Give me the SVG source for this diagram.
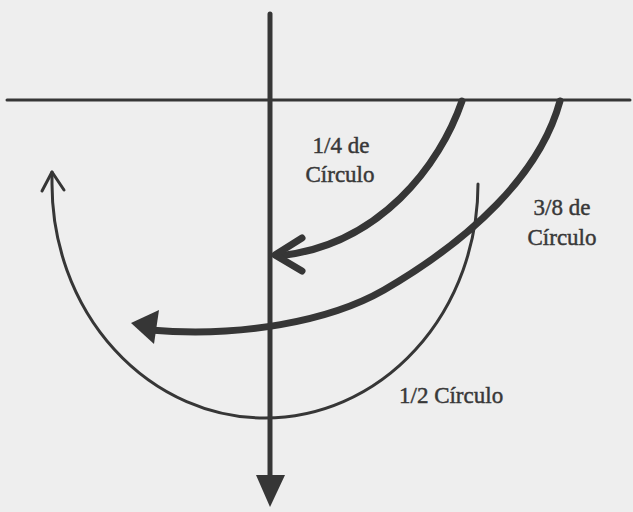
<svg xmlns="http://www.w3.org/2000/svg" width="633" height="512" viewBox="0 0 633 512">
<style>
.ink{fill:none;stroke:#363636;stroke-linecap:round;stroke-linejoin:round}
.thick{stroke-width:7}
.thin{stroke-width:3}
.head{fill:#363636;stroke:none}
.lbl{font-family:"Liberation Serif","Times New Roman",serif;font-size:23px;fill:#383838;stroke:#383838;stroke-width:0.45}
</style>
<rect x="0" y="0" width="633" height="512" fill="#eeeeee"/>
<g id="axes">
  <g id="axis-horizontal"><line class="ink" x1="7" y1="100" x2="630" y2="100" stroke-width="3" stroke-linecap="butt"/></g>
  <g id="axis-vertical">
    <line class="ink" x1="270" y1="14" x2="270" y2="480" stroke-width="5" stroke-linecap="butt"/>
    <polygon class="head" points="256,475 285,475 270,507"/>
  </g>
</g>
<g id="connectors">
  <g id="arc-quarter">
    <path class="ink thick" d="M462,101 C440,165 380,245 279,256"/>
    <polyline class="ink thick" points="302,238 275,255 302,271"/>
  </g>
  <g id="arc-three-eighths">
    <path class="ink thick" d="M560,101 C540,175 470,240 384,290 C330,321 240,338 150,330"/>
    <polygon class="head" points="131,323 159,310 154,344"/>
  </g>
  <g id="arc-half">
    <path class="ink thin" d="M52,172 L52,184 A213,234 0 0 0 478,184"/>
    <polyline class="ink thin" points="42,191 52,172 64,190"/>
  </g>
</g>
<g id="labels">
  <g id="label-quarter">
    <text class="lbl" x="341" y="153" text-anchor="middle">1/4 de</text>
    <text class="lbl" x="340" y="182" text-anchor="middle">Círculo</text>
  </g>
  <g id="label-three-eighths">
    <text class="lbl" x="562" y="215" text-anchor="middle">3/8 de</text>
    <text class="lbl" x="562" y="245" text-anchor="middle">Círculo</text>
  </g>
  <g id="label-half">
    <text class="lbl" x="399" y="403">1/2 Círculo</text>
  </g>
</g>
</svg>
